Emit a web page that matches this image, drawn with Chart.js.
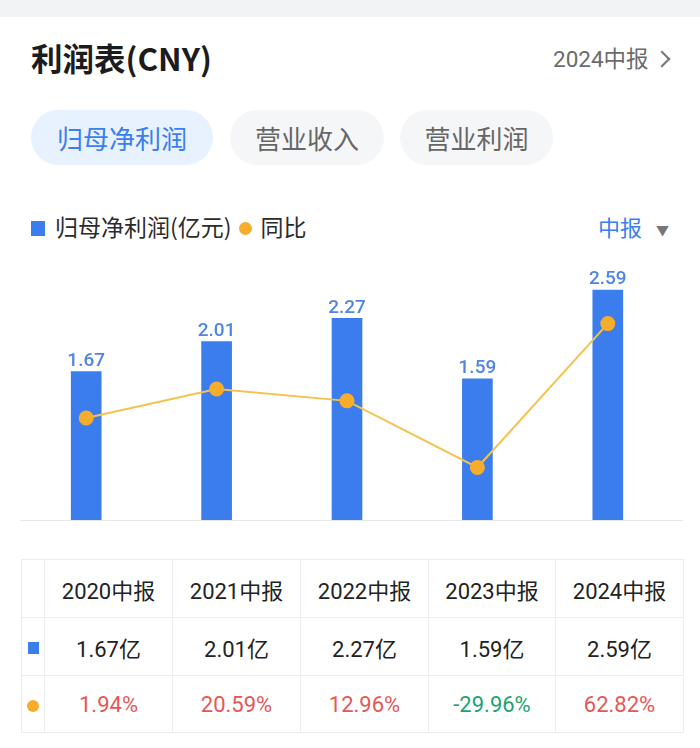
<!DOCTYPE html>
<html>
<head>
<meta charset="utf-8">
<script src="https://cdn.jsdelivr.net/npm/chart.js@4.4.1/dist/chart.umd.min.js"></script>
<style>
  html, body { margin: 0; padding: 0; background: #fff; }
  body { width: 700px; height: 748px; position: relative; overflow: hidden;
         font-family: Roboto, "Noto Sans CJK SC", sans-serif; }
  .topband { position: absolute; left: 0; top: 0; width: 700px; height: 17px; background: #f2f3f5; }
  .title { position: absolute; left: 31px; top: 36px; font-size: 31.5px; font-weight: 700; color: #1c1c1e;
           font-family: "Noto Sans CJK SC", sans-serif; line-height: 42px; }
  .period { position: absolute; left: 553px; top: 44px; font-size: 22.5px; color: #6b6b6b; line-height: 30px; }
  .chev { position: absolute; left: 656px; top: 53px; width: 10px; height: 10px;
          border-top: 2px solid #777; border-right: 2px solid #777; transform: rotate(45deg); }
  .tab { position: absolute; top: 110px; height: 55px; line-height: 55px; border-radius: 28px;
         font-size: 26px; text-align: center; color: #666; background: #f5f6f8;
         font-family: "Noto Sans CJK SC", sans-serif; }
  .tab.on { background: #e8f1fe; color: #3a7ef0; }
  .legend { position: absolute; left: 31px; top: 211px; font-size: 23px; color: #2b2b2b; line-height: 30px;
            font-family: "Noto Sans CJK SC", sans-serif; }
  .legend i { display: inline-block; vertical-align: middle; margin-top: -3px; }
  .sq { width: 14px; height: 15px; background: #3b7ded; margin-right: 10px; }
  .dot { width: 13px; height: 13px; border-radius: 50%; background: #f7ad2c; margin: 0 9px 0 7px; }
  .half { position: absolute; left: 598px; top: 211px; font-size: 22px; color: #3a7ef0; line-height: 30px;
          font-family: "Noto Sans CJK SC", sans-serif; }
  .half span { color: #777; font-size: 13px; margin-left: 14px; vertical-align: middle; }
  .axis { position: absolute; left: 20px; top: 520px; width: 663px; height: 1px; background: #e6e8eb; }
  .chartbox { position: absolute; left: 21px; top: 250px; width: 652px; height: 270px; }
  table { position: absolute; left: 21px; top: 559px; border-collapse: collapse; table-layout: fixed; }
  td { border: 1px solid #ececee; text-align: center; font-size: 22px; color: #222; padding: 0; }
  tr.h td { height: 57px; }
  tr.v td { height: 57px; }
  tr.p td { height: 56px; }
  td.mk { width: 22px; }
  .up { color: #e55757; }
  .down { color: #1fa36a; }
  .tsq { display: inline-block; width: 11px; height: 12px; background: #3b7ded; }
  .tdot { display: inline-block; width: 12px; height: 12px; border-radius: 50%; background: #f7ad2c; }
</style>
</head>
<body>
<div class="topband"></div>
<div class="title">利润表(CNY)</div>
<div class="period">2024中报</div>
<div class="chev"></div>
<div class="tab on" style="left:31px;width:182px;">归母净利润</div>
<div class="tab" style="left:230px;width:154px;">营业收入</div>
<div class="tab" style="left:400px;width:153px;">营业利润</div>
<div class="legend"><i class="sq"></i>归母净利润(亿元)<i class="dot"></i>同比</div>
<div class="half">中报<span>▼</span></div>
<div class="axis"></div>
<div class="chartbox"><canvas id="profitChart"></canvas></div>
<table id="tbl"></table>

<script>
"use strict";

const periods = ["2020中报", "2021中报", "2022中报", "2023中报", "2024中报"];
const netProfit = [1.67, 2.01, 2.27, 1.59, 2.59];        // 亿元
const yoyGrowth = [1.94, 20.59, 12.96, -29.96, 62.82];   // %

// value labels above the bars
const barLabels = {
  id: "barLabels",
  afterDatasetsDraw(chart) {
    const ctx = chart.ctx;
    const meta = chart.getDatasetMeta(1);
    ctx.save();
    ctx.font = "500 19px Roboto, sans-serif";
    ctx.fillStyle = "#4f86e2";
    ctx.textAlign = "center";
    ctx.textBaseline = "bottom";
    meta.data.forEach((bar, i) => {
      ctx.fillText(netProfit[i].toFixed(2), bar.x, bar.y - 1);
    });
    ctx.restore();
  }
};

const profitCtx = document.getElementById("profitChart").getContext("2d");
new Chart(profitCtx, {
  data: {
    labels: periods,
    datasets: [
      {
        type: "line",
        label: "同比",
        data: yoyGrowth,
        yAxisID: "yoy",
        order: 0,
        borderColor: "#f5c24e",
        borderWidth: 2,
        pointBackgroundColor: "#f7ad2c",
        pointBorderColor: "#f7ad2c",
        pointRadius: 6.5,
        tension: 0,
      },
      {
        type: "bar",
        label: "归母净利润(亿元)",
        data: netProfit,
        yAxisID: "y",
        order: 1,
        backgroundColor: "#3b7ded",
        barThickness: 30,
      },
    ],
  },
  options: {
    responsive: true,
    maintainAspectRatio: false,
    animation: false,
    layout: { padding: 0, autoPadding: false },
    plugins: {
      legend: { display: false },
      tooltip: { enabled: false },
    },
    scales: {
      x: { display: false, offset: true },
      y: { display: false, min: 0, max: 3.04 },
      yoy: { display: false, position: "right", min: -63.9, max: 110.3 },
    },
  },
  plugins: [barLabels],
});

// data table under the chart
const tbl = document.getElementById("tbl");
const widths = [128, 128, 128, 127, 128];
let html = '<tr class="h"><td class="mk"></td>';
periods.forEach((p, i) => { html += `<td style="width:${widths[i] - 1}px">${p}</td>`; });
html += '</tr><tr class="v"><td class="mk"><i class="tsq"></i></td>';
netProfit.forEach(v => { html += `<td>${v.toFixed(2)}亿</td>`; });
html += '</tr><tr class="p"><td class="mk"><i class="tdot"></i></td>';
yoyGrowth.forEach(v => { html += `<td class="${v < 0 ? "down" : "up"}">${v.toFixed(2)}%</td>`; });
html += "</tr>";
tbl.innerHTML = html;
</script>
</body>
</html>
